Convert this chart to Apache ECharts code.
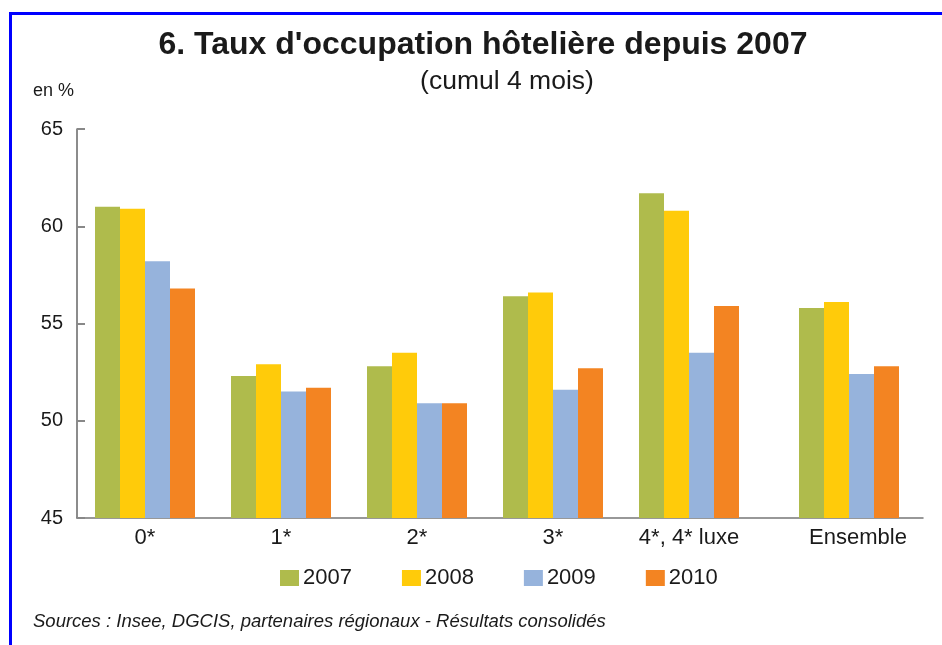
<!DOCTYPE html>
<html>
<head>
<meta charset="utf-8">
<script src="https://cdn.jsdelivr.net/npm/echarts@6/dist/echarts.min.js"></script>
<style>html,body{margin:0;padding:0;background:#fff;}#c{width:942px;height:645px;}</style>
</head>
<body>
<div id="c"></div>
<script>
var categories = ['0*', '1*', '2*', '3*', '4*, 4* luxe', 'Ensemble'];
var years = ['2007', '2008', '2009', '2010'];
var v2007 = [61.0, 52.3, 52.8, 56.4, 61.7, 55.8];
var v2008 = [60.9, 52.9, 53.5, 56.6, 60.8, 56.1];
var v2009 = [58.2, 51.5, 50.9, 51.6, 53.5, 52.4];
var v2010 = [56.8, 51.7, 50.9, 52.7, 55.9, 52.8];
var yTicks = [45, 50, 55, 60, 65];
var colors = ['#AFBB4C', '#FFCB0A', '#96B3DC', '#F38422'];

var values = [v2007, v2008, v2009, v2010];
var font = 'Liberation Sans, Arial, sans-serif';
var TOP = 129, H = 389;

var series = [];
years.forEach(function (y, i) {
  series.push({
    name: y, type: 'bar', xAxisIndex: 1, yAxisIndex: 1,
    data: values[i].slice(0, 5), barWidth: 25, barGap: '0%',
    itemStyle: { color: colors[i] }
  });
  series.push({
    name: y, type: 'bar', xAxisIndex: 2, yAxisIndex: 2,
    data: values[i].slice(5), barWidth: 25, barGap: '0%',
    itemStyle: { color: colors[i] }
  });
});

var chart = echarts.init(document.getElementById('c'));
chart.setOption({
  animation: false,
  backgroundColor: '#fff',
  title: [
    { text: "6. Taux d'occupation hôtelière depuis 2007", left: 483, textAlign: 'center', top: 29, padding: 0,
      textStyle: { fontFamily: font, fontSize: 32, fontWeight: 'bold', color: '#1a1a1a' } },
    { text: '(cumul 4 mois)', left: 507, textAlign: 'center', top: 68, padding: 0,
      textStyle: { fontFamily: font, fontSize: 26.5, fontWeight: 'normal', color: '#1a1a1a' } },
    { text: 'en %', left: 33, top: 82, padding: 0,
      textStyle: { fontFamily: font, fontSize: 18, fontWeight: 'normal', color: '#1a1a1a' } },
    { text: 'Sources : Insee, DGCIS, partenaires régionaux - Résultats consolidés', left: 33, top: 612, padding: 0,
      textStyle: { fontFamily: font, fontSize: 18.5, fontStyle: 'italic', fontWeight: 'normal', color: '#1a1a1a' } }
  ],
  legend: {
    data: years, left: 280, top: 567, padding: 0, icon: 'rect', itemWidth: 19, itemHeight: 16, itemGap: 50,
    textStyle: { fontFamily: font, fontSize: 22, color: '#1a1a1a', padding: [0, 0, 0, -1] }
  },
  grid: [
    { left: 77, top: TOP, width: 846, height: H },
    { left: 77, top: TOP, width: 680, height: H },
    { left: 757, top: TOP, width: 184, height: H }
  ],
  xAxis: [
    { type: 'category', gridIndex: 0, data: [''], axisLine: { lineStyle: { color: '#777', width: 1.5 } },
      axisTick: { show: false }, axisLabel: { show: false } },
    { type: 'category', gridIndex: 1, data: categories.slice(0, 5), axisLine: { show: false },
      axisTick: { show: false }, axisLabel: { interval: 0, fontFamily: font, fontSize: 22, color: '#1a1a1a', margin: 9 } },
    { type: 'category', gridIndex: 2, data: categories.slice(5), axisLine: { show: false },
      axisTick: { show: false }, axisLabel: { interval: 0, fontFamily: font, fontSize: 22, color: '#1a1a1a', margin: 9, padding: [0, 0, 0, 18] } }
  ],
  yAxis: [
    { type: 'value', gridIndex: 0, min: yTicks[0], max: yTicks[yTicks.length - 1], interval: 5,
      axisLine: { show: true, lineStyle: { color: '#666', width: 1.5 } },
      axisTick: { show: true, inside: true, length: 8, lineStyle: { color: '#888', width: 2 } },
      splitLine: { show: false },
      axisLabel: { fontFamily: font, fontSize: 20, color: '#1a1a1a', margin: 14 } },
    { type: 'value', gridIndex: 1, min: 45, max: 65, show: false, splitLine: { show: false } },
    { type: 'value', gridIndex: 2, min: 45, max: 65, show: false, splitLine: { show: false } }
  ],
  graphic: [
    { type: 'rect', shape: { x: 9, y: 12, width: 933, height: 3 }, style: { fill: '#0000FF' } },
    { type: 'rect', shape: { x: 9, y: 12, width: 3, height: 633 }, style: { fill: '#0000FF' } }
  ],
  series: series
});
</script>
</body>
</html>
